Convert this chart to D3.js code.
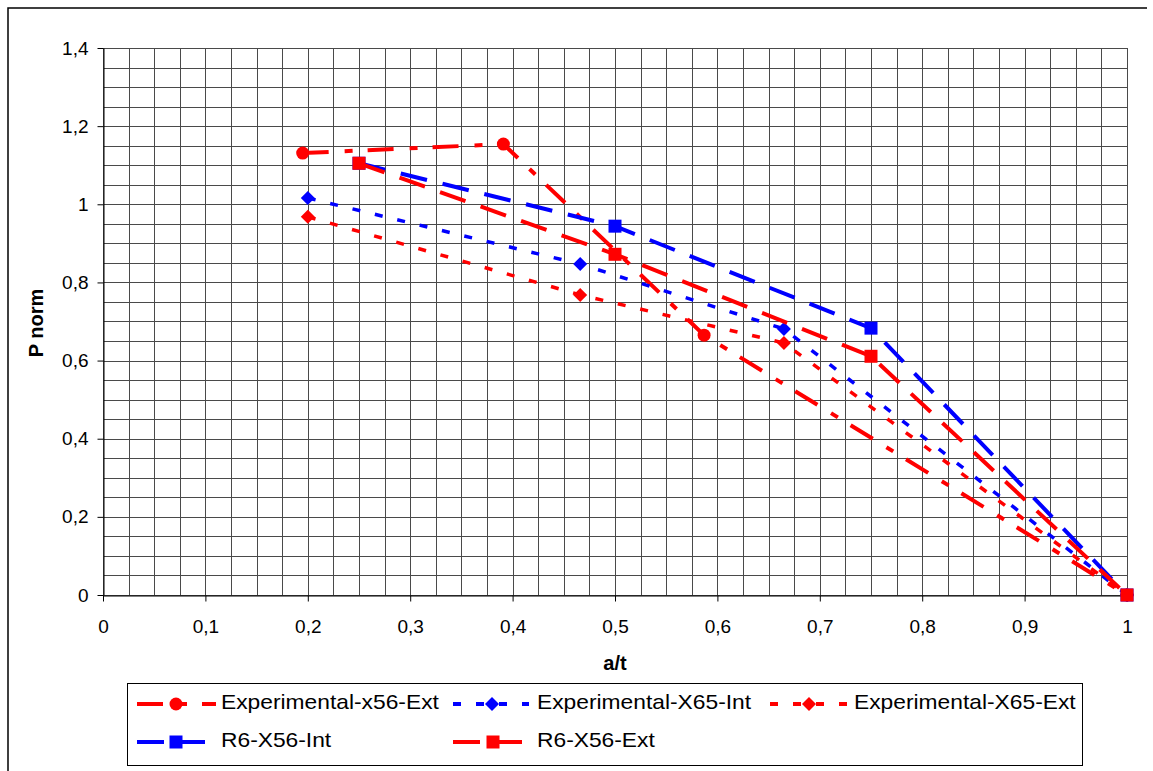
<!DOCTYPE html>
<html>
<head>
<meta charset="utf-8">
<script src="https://cdn.jsdelivr.net/npm/d3@7"></script>
<style>
  html, body { margin: 0; padding: 0; background: #fff; }
  svg { display: block; font-family: "Liberation Sans", Arial, sans-serif; }
</style>
</head>
<body>
<svg id="chart" width="1153" height="771"></svg>
<script>
// Normalised load P versus crack depth a/t
const seriesNames = [
  "Experimental-x56-Ext",
  "Experimental-X65-Int",
  "Experimental-X65-Ext",
  "R6-X56-Int",
  "R6-X56-Ext"
];
const expX56ExtX = [0.195, 0.391, 0.587, 1];
const expX56ExtY = [1.131, 1.154, 0.665, 0];
const expX65IntX = [0.2, 0.466, 0.665, 1];
const expX65IntY = [1.016, 0.847, 0.681, 0];
const expX65ExtX = [0.2, 0.466, 0.665, 1];
const expX65ExtY = [0.968, 0.768, 0.645, 0];
const r6IntX = [0.25, 0.5, 0.75, 1];
const r6IntY = [1.105, 0.944, 0.683, 0];
const r6ExtX = [0.25, 0.5, 0.75, 1];
const r6ExtY = [1.105, 0.872, 0.611, 0];

const xTicks = [0, 0.1, 0.2, 0.3, 0.4, 0.5, 0.6, 0.7, 0.8, 0.9, 1];
const xTickLabels = ["0", "0,1", "0,2", "0,3", "0,4", "0,5", "0,6", "0,7", "0,8", "0,9", "1"];
const yTicks = [0, 0.2, 0.4, 0.6, 0.8, 1, 1.2, 1.4];
const yTickLabels = ["0", "0,2", "0,4", "0,6", "0,8", "1", "1,2", "1,4"];

// Styling per series
const styles = [
  { color: "#ff0000", width: 4,   dash: "26,16,8,15", marker: "circle" },
  { color: "#0000ff", width: 3.5, dash: "8,15",       marker: "diamond" },
  { color: "#ff0000", width: 3.5, dash: "8,15",       marker: "diamond" },
  { color: "#0000ff", width: 4,   dash: "27,16",      marker: "square" },
  { color: "#ff0000", width: 4,   dash: "27,16",      marker: "square" }
];

const seriesX = [expX56ExtX, expX65IntX, expX65ExtX, r6IntX, r6ExtX];
const seriesY = [expX56ExtY, expX65IntY, expX65ExtY, r6IntY, r6ExtY];
const series = seriesNames.map((name, i) => ({
  name,
  style: styles[i],
  points: seriesX[i].map((xv, j) => ({ x: xv, y: seriesY[i][j] }))
}));

const svg = d3.select("#chart");
const plot = { left: 103, right: 1127, top: 48, bottom: 595 };

const x = d3.scaleLinear().domain([0, 1]).range([plot.left, plot.right]);
const y = d3.scaleLinear().domain([0, 1.4]).range([plot.bottom, plot.top]);

// Outer chart frame (top and left edges)
svg.append("path")
  .attr("d", "M8,771 L8,8 L1147,8")
  .attr("fill", "none")
  .attr("stroke", "#000")
  .attr("stroke-width", 1.5);

// Grid
const grid = svg.append("g").attr("class", "grid");
const crisp = v => Math.round(v) + 0.5;
d3.range(0, 40.5, 1).map(k => k * 0.025).forEach(v => {
  grid.append("line")
    .attr("x1", crisp(x(v))).attr("x2", crisp(x(v)))
    .attr("y1", plot.top).attr("y2", plot.bottom)
    .attr("stroke", "#4a4a4a").attr("stroke-width", 1);
});
d3.range(0, 28.5, 1).map(k => k * 0.05).forEach(v => {
  grid.append("line")
    .attr("x1", plot.left).attr("x2", plot.right)
    .attr("y1", crisp(y(v))).attr("y2", crisp(y(v)))
    .attr("stroke", "#4a4a4a").attr("stroke-width", 1);
});

// Axes
const xAxis = d3.axisBottom(x)
  .tickValues(xTicks)
  .tickFormat((d, i) => xTickLabels[i])
  .tickSize(6).tickSizeOuter(0).tickPadding(18);
const yAxis = d3.axisLeft(y)
  .tickValues(yTicks)
  .tickFormat((d, i) => yTickLabels[i])
  .tickSize(6).tickSizeOuter(0).tickPadding(9);

const gx = svg.append("g").attr("transform", `translate(0,${plot.bottom + 0.5})`).call(xAxis);
const gy = svg.append("g").attr("transform", `translate(${plot.left + 0.5},0)`).call(yAxis);
[gx, gy].forEach(g => {
  g.select(".domain").attr("stroke", "#000").attr("stroke-width", 1);
  g.selectAll(".tick line").attr("stroke", "#000");
  g.selectAll(".tick text")
    .attr("fill", "#000")
    .style("font-family", "'Liberation Sans', Arial, sans-serif")
    .style("font-size", "19px");
});

// Axis titles
svg.append("text")
  .attr("x", (plot.left + plot.right) / 2)
  .attr("y", 670)
  .attr("text-anchor", "middle")
  .style("font-weight", "bold")
  .style("font-size", "20px")
  .text("a/t");
svg.append("text")
  .attr("transform", "translate(43,323) rotate(-90)")
  .attr("text-anchor", "middle")
  .style("font-weight", "bold")
  .style("font-size", "20px")
  .text("P norm");

// Marker drawing
function drawMarker(g, type, cx, cy, color) {
  if (type === "circle") {
    g.append("circle").attr("cx", cx).attr("cy", cy).attr("r", 6.5).attr("fill", color);
  } else if (type === "square") {
    g.append("rect").attr("x", cx - 6.5).attr("y", cy - 6.5)
      .attr("width", 13).attr("height", 13).attr("fill", color);
  } else {
    const h = 7;
    g.append("path")
      .attr("d", `M${cx},${cy - h}L${cx + h},${cy}L${cx},${cy + h}L${cx - h},${cy}Z`)
      .attr("fill", color);
  }
}

// Series lines and markers
const line = d3.line().x(d => x(d.x)).y(d => y(d.y));
const gSeries = svg.append("g");
series.forEach(s => {
  const g = gSeries.append("g");
  g.append("path")
    .datum(s.points)
    .attr("d", line)
    .attr("fill", "none")
    .attr("stroke", s.style.color)
    .attr("stroke-width", s.style.width)
    .attr("stroke-dasharray", s.style.dash);
  s.points.forEach(p => drawMarker(g, s.style.marker, x(p.x), y(p.y), s.style.color));
});

// Legend
const legend = svg.append("g");
legend.append("rect")
  .attr("x", 127.5).attr("y", 683.5)
  .attr("width", 955).attr("height", 82)
  .attr("fill", "#fff").attr("stroke", "#000").attr("stroke-width", 1);

const legendCols = [137, 453, 770, 137, 453];
const legendRows = [704, 704, 704, 742, 742];
const legendSampleLen = [79, 76, 77, 68, 69];
const legendMarkerOffset = [39, 39, 39, 39, 40];

series.forEach((s, i) => {
  const x0 = legendCols[i], yy = legendRows[i];
  legend.append("line")
    .attr("x1", x0).attr("x2", x0 + legendSampleLen[i])
    .attr("y1", yy).attr("y2", yy)
    .attr("stroke", s.style.color)
    .attr("stroke-width", 4)
    .attr("stroke-dasharray", s.style.dash);
  drawMarker(legend, s.style.marker, x0 + legendMarkerOffset[i], yy, s.style.color);
  legend.append("text")
    .attr("transform", `translate(${x0 + 84},${yy + 5}) scale(1.14,1)`)
    .style("font-size", "20px")
    .attr("fill", "#000")
    .text(s.name);
});
</script>
</body>
</html>
